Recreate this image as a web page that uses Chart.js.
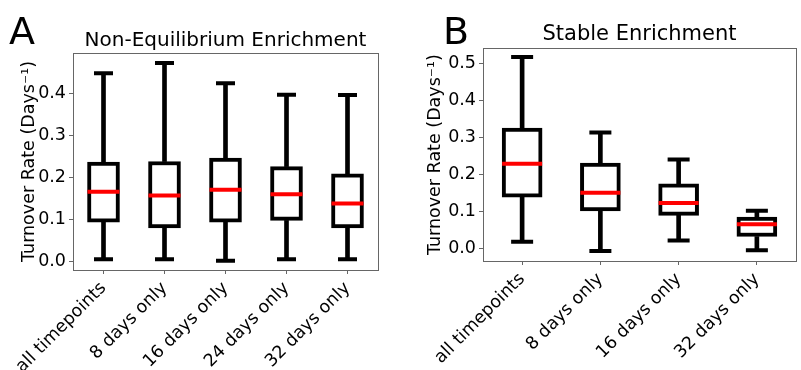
<!DOCTYPE html>
<html><head><meta charset="utf-8">
<script src="https://cdn.jsdelivr.net/npm/chart.js@4.4.0/dist/chart.umd.min.js"></script>
<style>
html,body{margin:0;padding:0;width:801px;height:370px;overflow:hidden;background:#fff;}
.panel{position:absolute;top:0;height:370px;}
#wrapA{left:0;width:400px;}
#wrapB{left:400px;width:420px;}
.letter{position:absolute;font-family:"DejaVu Sans";font-size:38px;color:#000;line-height:1;}
</style></head><body>
<div class="panel" id="wrapA"><canvas id="cA" width="400" height="370"></canvas></div>
<div class="panel" id="wrapB"><canvas id="cB" width="420" height="370"></canvas></div>
<div class="letter" style="left:9px;top:12px">A</div>
<div class="letter" style="left:443px;top:12px">B</div>
<script>
// ---- Panel A data ----
const categoriesA = ["all timepoints", "8 days only", "16 days only", "24 days only", "32 days only"];
const whiskerLowA  = [0.006, 0.006, 0.002, 0.006, 0.006];
const q1A          = [0.094, 0.080, 0.094, 0.098, 0.080];
const medianA      = [0.166, 0.157, 0.171, 0.160, 0.138];
const q3A          = [0.237, 0.238, 0.246, 0.226, 0.209];
const whiskerHighA = [0.448, 0.472, 0.424, 0.397, 0.396];
const yTicksA      = [0.0, 0.1, 0.2, 0.3, 0.4];
const yTickLabelsA = ["0.0", "0.1", "0.2", "0.3", "0.4"];

// ---- Panel B data ----
const categoriesB = ["all timepoints", "8 days only", "16 days only", "32 days only"];
const whiskerLowB  = [0.019, -0.006, 0.022, -0.004];
const q1B          = [0.139, 0.102, 0.090, 0.033];
const medianB      = [0.229, 0.151, 0.123, 0.066];
const q3B          = [0.325, 0.231, 0.175, 0.085];
const whiskerHighB = [0.516, 0.313, 0.240, 0.102];
const yTicksB      = [0.0, 0.1, 0.2, 0.3, 0.4, 0.5];
const yTickLabelsB = ["0.0", "0.1", "0.2", "0.3", "0.4", "0.5"];

Chart.defaults.font.family = "'DejaVu Sans', sans-serif";

const framePlugin = {
  id: 'frame',
  afterDraw(chart) {
    const a = chart.chartArea, c = chart.ctx;
    c.save();
    c.strokeStyle = '#666';
    c.lineWidth = 1;
    c.strokeRect(Math.round(a.left) + 0.5, Math.round(a.top) + 0.5,
                 Math.round(a.right - a.left), Math.round(a.bottom - a.top));
    c.restore();
  }
};

function makeChart(id, cats, low, q1, med, q3, high, yTicks, yLabels, s) {
  const gray = '#666';
  return new Chart(document.getElementById(id), {
    type: 'bar',
    data: {
      labels: cats,
      datasets: [
        { type: 'bar', data: cats.map((_, i) => [low[i], q1[i]]), backgroundColor: '#000',
          borderWidth: 0, barThickness: 4, grouped: false, order: 3 },
        { type: 'bar', data: cats.map((_, i) => [q3[i], high[i]]), backgroundColor: '#000',
          borderWidth: 0, barThickness: 4, grouped: false, order: 3 },
        { type: 'bar', data: cats.map((_, i) => [q1[i], q3[i]]), backgroundColor: '#fff',
          borderColor: '#000', borderWidth: 4, borderSkipped: false,
          barThickness: s.boxW, grouped: false, order: 2 },
        { type: 'line', data: low, showLine: false, pointStyle: 'line', pointRadius: s.capR,
          pointBorderWidth: 4, pointBorderColor: '#000', borderColor: '#000', order: 1 },
        { type: 'line', data: high, showLine: false, pointStyle: 'line', pointRadius: s.capR,
          pointBorderWidth: 4, pointBorderColor: '#000', borderColor: '#000', order: 1 },
        { type: 'line', data: med, showLine: false, pointStyle: 'line', pointRadius: s.medR,
          pointBorderWidth: 4, pointBorderColor: '#ff0000', borderColor: '#ff0000', order: 0 }
      ]
    },
    options: {
      responsive: false,
      animation: false,
      devicePixelRatio: 1,
      layout: { padding: { left: 0, right: s.padR, top: 0, bottom: 0 } },
      plugins: {
        legend: { display: false },
        tooltip: { enabled: false },
        title: {
          display: true, text: s.title, color: '#000', fullSize: false,
          font: { size: s.titleSize, weight: 'normal' },
          padding: { top: s.titlePadTop, bottom: s.titlePadBottom }
        }
      },
      scales: {
        x: {
          offset: true,
          grid: { offset: false, drawOnChartArea: false, tickLength: 4, color: gray },
          border: { color: gray, width: 1 },
          ticks: { minRotation: 45, maxRotation: 45, autoSkip: false, color: '#000',
                   font: { size: s.fontSize }, padding: 4 },
          afterFit(sc) { sc.height = s.xH; }
        },
        y: {
          min: s.yMin, max: s.yMax,
          afterBuildTicks(sc) { sc.ticks = yTicks.map(v => ({ value: v })); },
          grid: { drawOnChartArea: false, tickLength: 4, color: gray },
          border: { color: gray, width: 1 },
          ticks: { color: '#000', font: { size: s.fontSize }, padding: 3,
                   callback: (v, i) => yLabels[i] },
          title: { display: true, text: 'Turnover Rate (Days\u207B\u00B9)', color: '#000',
                   font: { size: s.fontSize }, padding: { top: s.yTitlePad, bottom: 0 } },
          afterFit(sc) { sc.width = s.yW; }
        }
      }
    },
    plugins: [framePlugin]
  });
}

makeChart('cA', categoriesA, whiskerLowA, q1A, medianA, q3A, whiskerHighA, yTicksA, yTickLabelsA, {
  title: 'Non-Equilibrium Enrichment', titleSize: 20, titlePadTop: 29, titlePadBottom: 0,
  fontSize: 17.5, yTitlePad: 18.5, yW: 73, xH: 100, padR: 22,
  yMin: -0.0198, yMax: 0.496, boxW: 32, capR: 9.5, medR: 16
});
makeChart('cB', categoriesB, whiskerLowB, q1B, medianB, q3B, whiskerHighB, yTicksB, yTickLabelsB, {
  title: 'Stable Enrichment', titleSize: 21, titlePadTop: 22, titlePadBottom: 1,
  fontSize: 17.5, yTitlePad: 24.5, yW: 83, xH: 109, padR: 10,
  yMin: -0.033, yMax: 0.540, boxW: 40, capR: 11, medR: 20
});
</script>
</body></html>
